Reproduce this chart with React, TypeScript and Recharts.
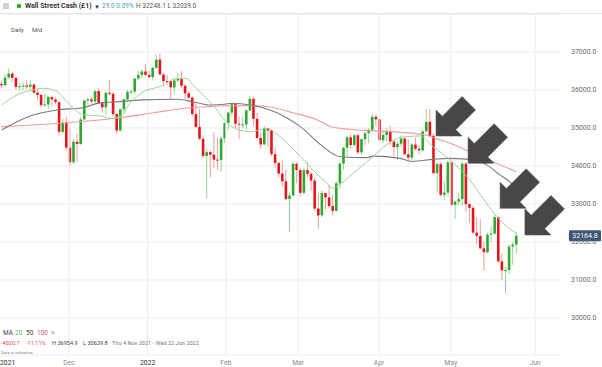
import {
  ComposedChart,
  Bar,
  Line,
  XAxis,
  YAxis,
  CartesianGrid,
  ReferenceLine,
  ReferenceDot,
} from 'recharts'

// daily candles, Wall Street Cash (£1), mid: [open, high, low, close]
const nov21 = [
  [36160, 36250, 36050, 36124], [36124, 36420, 36100, 36328], [36330, 36565, 36300, 36432],
  [36432, 36470, 36200, 36320], [36320, 36360, 36000, 36080], [36080, 36180, 35990, 36100],
  [36100, 36200, 36000, 36120], [36120, 36250, 36020, 36087], [36087, 36250, 36000, 36142],
  [36142, 36180, 35900, 35931], [35931, 36000, 35720, 35871], [35871, 35900, 35550, 35602],
  [35602, 35900, 35560, 35619], [35619, 35850, 35500, 35814], [35814, 35850, 35560, 35750],
  [35750, 35800, 35620, 35680], [35680, 35700, 34800, 34899], [34899, 35250, 34850, 35136],
  [35136, 35300, 34400, 34484],
]
const dec21 = [
  [34484, 35000, 34000, 34100], [34100, 34700, 34050, 34640], [34640, 34850, 34100, 34580],
  [34580, 35300, 34550, 35227], [35227, 35750, 35200, 35719], [35719, 35800, 35600, 35754],
  [35754, 35830, 35650, 35700], [35700, 36000, 35650, 35971], [35971, 36050, 35620, 35650],
  [35650, 35700, 35400, 35544], [35544, 35950, 35350, 35927], [35927, 36250, 35850, 35898],
  [35898, 35950, 35300, 35365], [35365, 35400, 34850, 34932], [34932, 35500, 34900, 35493],
  [35493, 35770, 35400, 35754], [35754, 36000, 35700, 35951], [35951, 36000, 35900, 35960],
  [35960, 36320, 35900, 36302], [36302, 36500, 36250, 36398], [36398, 36550, 36300, 36488],
  [36488, 36680, 36350, 36398], [36398, 36500, 36300, 36338],
]
const jan22 = [
  [36338, 36600, 36250, 36585], [36585, 36935, 36550, 36800], [36800, 36955, 36400, 36407],
  [36407, 36450, 36100, 36236], [36236, 36400, 36150, 36231], [36231, 36250, 35750, 36068],
  [36068, 36300, 35900, 36252], [36252, 36450, 36200, 36290], [36290, 36500, 36050, 36113],
  [36113, 36150, 35750, 35912], [35912, 35950, 35750, 35800], [35800, 35850, 35300, 35368],
  [35368, 35650, 35000, 35029], [35029, 35500, 34680, 34715], [34715, 34800, 34200, 34265],
  [34265, 34450, 33150, 34365], [34365, 34400, 33700, 34298], [34298, 34900, 33950, 34168],
  [34168, 34750, 33900, 34160], [34160, 34780, 33850, 34725], [34725, 35150, 34600, 35132],
]
const feb22 = [
  [35132, 35420, 34950, 35405], [35405, 35650, 35300, 35629], [35629, 35650, 35000, 35111],
  [35111, 35300, 34700, 35089], [35089, 35300, 35000, 35091], [35091, 35500, 34950, 35463],
  [35463, 35830, 35450, 35768], [35768, 35830, 35050, 35242], [35242, 35400, 34700, 34738],
  [34738, 34900, 34450, 34566], [34566, 35050, 34550, 34989], [34989, 35000, 34500, 34934],
  [34934, 34950, 34250, 34312], [34312, 34500, 33950, 34079], [34079, 34100, 33700, 33800],
  [33800, 34150, 33450, 33597], [33597, 33900, 33100, 33132], [33132, 33300, 32272, 33224],
  [33224, 34100, 33200, 34059], [34059, 34100, 33550, 33893],
]
const mar22 = [
  [33893, 33950, 33200, 33295], [33295, 33950, 33250, 33891], [33891, 34100, 33700, 33795],
  [33795, 33850, 33350, 33615], [33615, 33700, 32800, 32880], [32880, 33300, 32350, 32700],
  [32700, 33350, 32650, 33287], [33287, 33300, 32850, 33174], [33174, 33500, 32900, 32945],
  [32945, 33250, 32700, 32818], [32818, 33600, 32800, 33545], [33545, 34100, 33400, 34063],
  [34063, 34500, 33900, 34481], [34481, 34800, 34250, 34755], [34755, 34850, 34450, 34553],
  [34553, 34850, 34500, 34808], [34808, 34850, 34300, 34359], [34359, 34720, 34300, 34708],
  [34708, 34900, 34550, 34862], [34862, 35000, 34600, 34955], [34955, 35370, 34900, 35295],
  [35295, 35350, 35050, 35229], [35229, 35250, 34650, 34678],
]
const apr22 = [
  [34678, 34900, 34600, 34818], [34818, 35000, 34650, 34922], [34922, 35050, 34550, 34641],
  [34641, 34700, 34250, 34497], [34497, 34650, 34150, 34584], [34584, 34800, 34500, 34721],
  [34721, 34750, 34280, 34308], [34308, 34700, 34150, 34221], [34221, 34600, 34150, 34565],
  [34565, 34750, 34400, 34452], [34452, 34550, 34300, 34412], [34412, 34950, 34380, 34912],
  [34912, 35500, 34900, 35161], [35161, 35500, 34750, 34793], [34793, 34850, 33780, 33811],
  [33811, 34100, 33300, 34049], [34049, 34100, 33200, 33241], [33241, 33600, 33100, 33302],
  [33302, 34150, 33200, 34098], [34098, 34100, 32950, 32977],
]
const may22 = [
  [32977, 33100, 32600, 33062], [33062, 33300, 32950, 33129], [33129, 34120, 32950, 34061],
  [34061, 34100, 32800, 32998], [32998, 33000, 32500, 32899], [32899, 32950, 32200, 32246],
  [32246, 32650, 31950, 32161], [32161, 32600, 31800, 31834], [31834, 32000, 31250, 31730],
  [31730, 32250, 31700, 32197], [32197, 32400, 32000, 32223], [32223, 32700, 32200, 32655],
  [32655, 32680, 31450, 31490], [31490, 31700, 31000, 31254], [31254, 31350, 30640, 31262],
  [31262, 31950, 31150, 31880], [31880, 32000, 31400, 31929], [31929, 32250, 31700, 32165],
]

// moving averages: [bar index, value]
const ma20 = [
  [0, 35600], [4.3, 35870], [8.75, 36000], [11.5, 36045], [14.9, 35990], [18.2, 35690],
  [21, 35430], [22.6, 35345], [27.4, 35320], [30.1, 35255], [33, 35300], [35.7, 35650],
  [39.3, 35950], [44, 36090], [48.75, 36300], [51.5, 36300], [53.2, 36130], [56, 35870],
  [58.75, 35605], [62, 35210], [64, 35030], [69, 34900], [73.75, 34990], [77.4, 34770],
  [83, 34245], [86.5, 33895], [90.4, 33545], [92, 33413], [94, 33520], [98.75, 33895],
  [103.2, 34245], [107, 34560], [110.7, 34750], [116.3, 34790], [119.9, 34508],
  [124.6, 34158], [129.3, 33718], [134.9, 33000], [137.6, 32666], [140.4, 32403], [143, 32230],
]
const ma50 = [
  [0, 34950], [8.75, 35340], [15.4, 35475], [22.6, 35535], [27.4, 35660], [31.5, 35685],
  [39.3, 35740], [48.75, 35755], [53.2, 35690], [58, 35605], [62, 35625], [64.3, 35650],
  [69, 35605], [74.6, 35475], [83, 35035], [89.3, 34510], [94, 34245], [101.5, 34220],
  [103.2, 34260], [110.7, 34200], [114, 34120], [119.9, 34175], [124, 34200], [129.3, 34180],
  [134.8, 34030], [138, 33800], [141.7, 33545], [143, 33430],
]
const ma100 = [
  [0, 35035], [31.5, 35255], [42, 35395], [51.5, 35525], [57, 35560], [62, 35587],
  [69, 35590], [74, 35560], [81, 35400], [88, 35200], [91.3, 35040], [97, 34960],
  [103, 34930], [110.7, 34890], [118, 34810], [121.8, 34690], [124.6, 34600],
  [131, 34334], [143, 33850],
]

const priceTicks = [30000, 31000, 32000, 33000, 34000, 35000, 36000, 37000]
const monthTicks = [1.7, 18.75, 40.6, 62.3, 82.4, 104.9, 124.8, 148.2]
const monthLabels = ['2021', 'Dec', '2022', 'Feb', 'Mar', 'Apr', 'May', 'Jun']
const arrowTips = [[120.7, 34789], [129.6, 34071], [138.5, 32887], [145.4, 32184]]
const lastPrice = 32164.8

const FONT = 'Roboto, Arial, sans-serif'

const rows = [...nov21, ...dec21, ...jan22, ...feb22, ...mar22, ...apr22, ...may22].map(
  ([open, high, low, close], i) => ({ i, open, high, low, close })
)
const toPts = (pts: number[][]) => pts.map(([i, v]) => ({ i, v }))

const Candle = (props: any) => {
  const { x, y, width, height, payload } = props
  if (!payload) return null
  const { open, high, low, close } = payload
  const top = Math.min(y, y + height)
  const h = Math.abs(height)
  const k = h / (high - low || 1)
  const cx = x + width / 2
  const yOf = (v: number) => top + (high - v) * k
  const up = close >= open
  const bTop = yOf(Math.max(open, close))
  const bBot = yOf(Math.min(open, close))
  return (
    <g>
      <line x1={cx} x2={cx} y1={top} y2={top + h} stroke={up ? '#93d493' : '#f29b9b'} strokeWidth={1} />
      <rect x={cx - 1.3} y={bTop} width={2.6} height={Math.max(bBot - bTop, 1)} fill={up ? '#2fa82f' : '#e3161d'} />
    </g>
  )
}

const Arrow = ({ cx, cy }: { cx?: number; cy?: number }) => {
  if (cx == null || cy == null) return null
  const s = Math.SQRT1_2
  const uv = [[0, 0], [18.4, -18.4], [18.4, -9.5], [46.4, -9.5], [46.4, 9.5], [18.4, 9.5], [18.4, 18.4]]
  const pts = uv.map(([u, v]) => `${cx + (u + v) * s},${cy + (v - u) * s}`).join(' ')
  return <polygon points={pts} fill="#474747" stroke="#5a5a5a" strokeWidth={0.6} />
}

const MonthTick = (props: any) => {
  const { x, y, payload } = props
  const idx = monthTicks.indexOf(payload.value)
  const label = monthLabels[idx] ?? ''
  const year = /^\d+$/.test(label)
  return (
    <text x={x} y={y} dy={2} textAnchor="middle" fontSize={6.8} fontFamily={FONT} fill={year ? '#333' : '#8a8a8a'}>
      {label}
    </text>
  )
}

const PriceBadge = (props: any) => {
  const vb = props.viewBox
  if (!vb) return null
  const x = vb.x + vb.width + 9
  return (
    <g>
      <rect x={x} y={vb.y - 5.5} width={32} height={11} fill="#3d5576" rx={1} />
      <text x={x + 16} y={vb.y + 0.5} textAnchor="middle" dominantBaseline="central" fontSize={7} fontFamily={FONT} fill="#fff">
        {lastPrice.toFixed(1)}
      </text>
    </g>
  )
}

export default function App() {
  return (
    <div style={{ position: 'absolute', left: 0, top: 0, width: 602, height: 367, background: '#fff', fontFamily: FONT }}>
      <ComposedChart width={602} height={367} data={rows} margin={{ top: 14, right: 0, bottom: 0, left: 0 }}>
        <CartesianGrid vertical={false} stroke="#ececec" />
        <XAxis
          dataKey="i"
          type="number"
          domain={[-0.42, 155.14]}
          allowDataOverflow
          ticks={monthTicks}
          tick={<MonthTick />}
          axisLine={false}
          tickLine={false}
          height={12}
          interval={0}
        />
        <YAxis
          orientation="right"
          type="number"
          domain={[29026, 38000]}
          allowDataOverflow
          ticks={priceTicks}
          tickFormatter={(v: number) => v.toFixed(1)}
          tick={{ fontSize: 7, fill: '#6a6a6a', fontFamily: FONT }}
          axisLine={false}
          tickLine={false}
          tickMargin={5}
          width={42}
        />
        {monthTicks.slice(1).map((t) => (
          <ReferenceLine key={t} x={t} stroke="#ececec" />
        ))}
        <Bar dataKey={(d: any) => [d.low, d.high]} barSize={3} shape={<Candle />} isAnimationActive={false} />
        <Line data={toPts(ma100)} dataKey="v" type="monotone" stroke="#f29a9a" strokeWidth={1.1} dot={false} isAnimationActive={false} />
        <Line data={toPts(ma50)} dataKey="v" type="monotone" stroke="#7a7a7a" strokeWidth={1.1} dot={false} isAnimationActive={false} />
        <Line data={toPts(ma20)} dataKey="v" type="monotone" stroke="#98d698" strokeWidth={1} dot={false} isAnimationActive={false} />
        {arrowTips.map(([i, v]) => (
          <ReferenceDot key={i} x={i} y={v} r={0} ifOverflow="visible" shape={<Arrow />} />
        ))}
        <ReferenceLine y={lastPrice} stroke="none" label={<PriceBadge />} />
      </ComposedChart>
      <svg width={602} height={367} style={{ position: 'absolute', left: 0, top: 0, pointerEvents: 'none' }} fontFamily={FONT}>
        <line x1={0} x2={602} y1={13.5} y2={13.5} stroke="#e3e3e3" />
        <g stroke="#8a8a8a" strokeWidth={0.8}>
          <line x1={3} x2={9} y1={4} y2={4} />
          <line x1={3} x2={9} y1={6} y2={6} />
          <line x1={3} x2={9} y1={8} y2={8} />
        </g>
        <circle cx={19} cy={6} r={2.3} fill="#2ea82e" />
        <text x={25} y={6.3} dominantBaseline="central" fontSize={7} fontWeight={700} fill="#333">Wall Street Cash (£1)</text>
        <text x={94} y={6.3} dominantBaseline="central" fontSize={6} fill="#333">▼</text>
        <text x={102} y={6.3} dominantBaseline="central" fontSize={6.5} fill="#44a5a5">29.0  0.09%</text>
        <text x={136} y={6.3} dominantBaseline="central" fontSize={6.5} fill="#555">H 32248.1  L 32039.0</text>
        <text x={11} y={29} dominantBaseline="central" fontSize={6} fill="#555">Daily</text>
        <text x={32} y={29} dominantBaseline="central" fontSize={6} fill="#555">Mid</text>
        <text y={333} dominantBaseline="central" fontSize={6.5}>
          <tspan x={3} fill="#444">MA</tspan>
          <tspan x={15} fill="#5cb85c">20</tspan>
          <tspan x={26} fill="#444">50</tspan>
          <tspan x={37} fill="#e05858">100</tspan>
          <tspan x={51} fill="#999">×</tspan>
        </text>
        <text y={343} dominantBaseline="central" fontSize={5.6}>
          <tspan x={1} fill="#e04848">-4020.7</tspan>
          <tspan x={26} fill="#e04848">-11.11%</tspan>
          <tspan x={52} fill="#444">H 36954.9</tspan>
          <tspan x={83} fill="#444">L 30639.8</tspan>
          <tspan x={112} fill="#777">Thu 4 Nov 2021 - Wed 22 Jun 2022</tspan>
        </text>
        <text x={1} y={352.5} dominantBaseline="central" fontSize={4.2} fill="#888">Data is indicative</text>
      </svg>
    </div>
  )
}
